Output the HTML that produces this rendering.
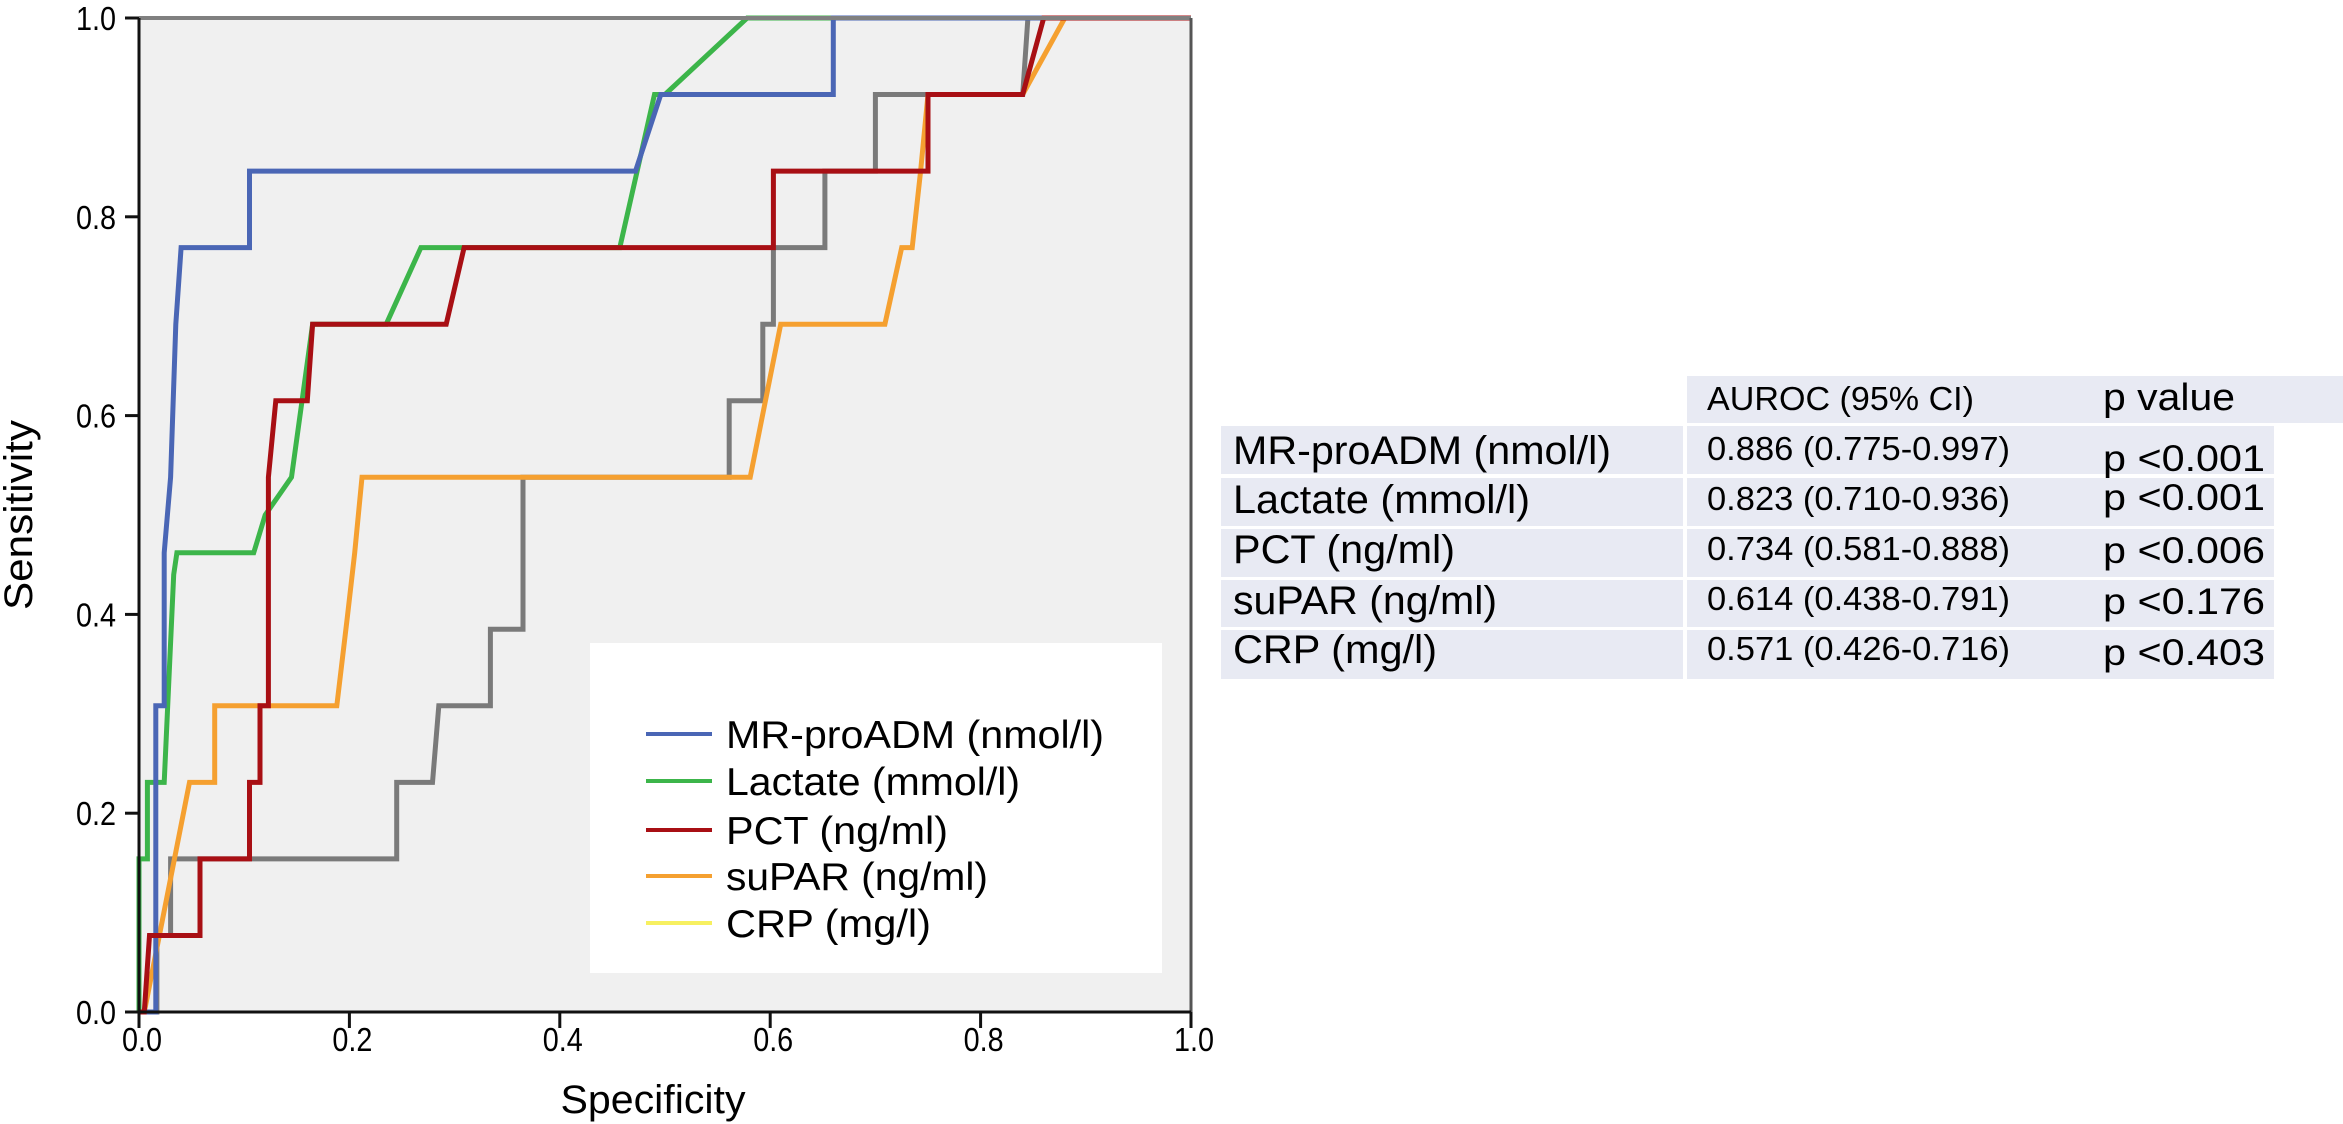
<!DOCTYPE html>
<html><head><meta charset="utf-8"><style>
html,body{margin:0;padding:0;background:#fff;}
svg{display:block;font-family:"Liberation Sans",Arial,sans-serif;}
</style></head><body>
<svg id="chart" width="2343" height="1124" viewBox="0 0 2343 1124" xmlns="http://www.w3.org/2000/svg">
<rect x="139" y="18" width="1052" height="994" fill="#f0f0f0"/>
<g id="curves"></g>
<line x1="139" y1="18" x2="1191" y2="18" stroke="#808080" stroke-width="4"/>
<line x1="1191" y1="18" x2="1191" y2="1012" stroke="#555" stroke-width="3"/>
<line x1="139" y1="18" x2="139" y2="1012" stroke="#111" stroke-width="3"/>
<line x1="139" y1="1012" x2="1191" y2="1012" stroke="#111" stroke-width="3"/>
<g id="ticks"></g>
<text x="653" y="1113" font-size="40" text-anchor="middle" textLength="185" lengthAdjust="spacingAndGlyphs">Specificity</text>
<text transform="translate(32,515) rotate(-90)" font-size="40" text-anchor="middle" textLength="190" lengthAdjust="spacingAndGlyphs">Sensitivity</text>
<g>
<rect x="590" y="643" width="572" height="330" fill="#fff"/>
<g id="legend-items"></g>
</g>
<g>
<rect x="1687" y="376" width="656" height="47" fill="#e8eaf3"/>
<text x="1707" y="410" font-size="33" textLength="267" lengthAdjust="spacingAndGlyphs">AUROC (95% CI)</text>
<text x="2103" y="410" font-size="38" textLength="132" lengthAdjust="spacingAndGlyphs">p value</text>
<g id="table-rows"></g>
</g>
</svg>
<script>
const seriesNames = ["MR-proADM (nmol/l)", "Lactate (mmol/l)", "PCT (ng/ml)", "suPAR (ng/ml)", "CRP (mg/l)"];
const seriesColors = ["#4a66b5", "#3cb54a", "#a80f14", "#f5a030", "#f7f060"];
const crpCurveColor = "#7a7a7a";
const mrSpec = [0,0.01,0.016,0.016,0.024,0.024,0.03,0.035,0.04,0.105,0.105,0.472,0.496,0.66,0.66,1];
const mrSens = [0,0,0,0.308,0.308,0.462,0.538,0.692,0.769,0.769,0.846,0.846,0.923,0.923,1,1];
const lacSpec = [0,0,0.008,0.008,0.024,0.033,0.036,0.109,0.12,0.145,0.165,0.235,0.268,0.307,0.457,0.49,0.5,0.578,1];
const lacSens = [0,0.154,0.154,0.231,0.231,0.44,0.462,0.462,0.5,0.538,0.692,0.692,0.769,0.769,0.769,0.923,0.923,1,1];
const pctSpec = [0,0.005,0.01,0.058,0.058,0.105,0.105,0.115,0.115,0.123,0.123,0.13,0.16,0.165,0.292,0.309,0.603,0.603,0.75,0.75,0.84,0.86,1];
const pctSens = [0,0,0.077,0.077,0.154,0.154,0.231,0.231,0.308,0.308,0.538,0.615,0.615,0.692,0.692,0.769,0.769,0.846,0.846,0.923,0.923,1,1];
const suparSpec = [0,0.005,0.048,0.072,0.072,0.188,0.198,0.205,0.212,0.581,0.61,0.709,0.725,0.735,0.743,0.75,0.84,0.88,1];
const suparSens = [0,0,0.231,0.231,0.308,0.308,0.397,0.462,0.538,0.538,0.692,0.692,0.769,0.769,0.846,0.923,0.923,1,1];
const crpSpec = [0,0.017,0.017,0.03,0.03,0.245,0.245,0.279,0.285,0.334,0.334,0.365,0.365,0.561,0.561,0.593,0.593,0.603,0.603,0.652,0.652,0.70,0.70,0.84,0.845,1];
const crpSens = [0,0,0.077,0.077,0.154,0.154,0.231,0.231,0.308,0.308,0.385,0.385,0.538,0.538,0.615,0.615,0.692,0.692,0.769,0.769,0.846,0.846,0.923,0.923,1,1];
const xTicks = [0, 0.2, 0.4, 0.6, 0.8, 1.0];
const xTickLabels = ["0.0", "0.2", "0.4", "0.6", "0.8", "1.0"];
const yTicks = [0, 0.2, 0.4, 0.6, 0.8, 1.0];
const yTickLabels = ["0.0", "0.2", "0.4", "0.6", "0.8", "1.0"];
const tableLabels = ["MR-proADM (nmol/l)", "Lactate (mmol/l)", "PCT (ng/ml)", "suPAR (ng/ml)", "CRP (mg/l)"];
const tableAuroc = ["0.886 (0.775-0.997)", "0.823 (0.710-0.936)", "0.734 (0.581-0.888)", "0.614 (0.438-0.791)", "0.571 (0.426-0.716)"];
const tableP = ["p <0.001", "p <0.001", "p <0.006", "p <0.176", "p <0.403"];

const NS = "http://www.w3.org/2000/svg";
const X0 = 139, X1 = 1191, Y0 = 1012, Y1 = 18;
function sx(v){ return X0 + v * (X1 - X0); }
function sy(v){ return Y0 - v * (Y0 - Y1); }
function mk(tag, attrs, parent){ const e = document.createElementNS(NS, tag); for (const k in attrs) e.setAttribute(k, attrs[k]); parent.appendChild(e); return e; }

const curves = document.getElementById("curves");
const allSpec = [mrSpec, lacSpec, pctSpec, suparSpec, crpSpec];
const allSens = [mrSens, lacSens, pctSens, suparSens, crpSens];
const curveColors = [seriesColors[0], seriesColors[1], seriesColors[2], seriesColors[3], crpCurveColor];
const curveNames = ["mrproadm-curve", "lactate-curve", "pct-curve", "supar-curve", "crp-curve"];
const drawOrder = [4, 3, 1, 0, 2];
drawOrder.forEach(i => {
  const sp = allSpec[i], se = allSens[i];
  let d = "";
  for (let k = 0; k < sp.length; k++) d += (k ? "L" : "M") + sx(sp[k]).toFixed(1) + " " + sy(se[k]).toFixed(1);
  const p = mk("path", {d: d, fill: "none", stroke: curveColors[i], "stroke-width": 5, "stroke-linejoin": "miter"}, curves);
  
  
});

const ticks = document.getElementById("ticks");
xTicks.forEach((v, i) => {
  const l = mk("line", {x1: sx(v), y1: Y0, x2: sx(v), y2: Y0 + 16, stroke: "#111", "stroke-width": 3}, ticks);
  
  
  const t = mk("text", {x: sx(v) + 3, y: 1051, "font-size": 33, "text-anchor": "middle", textLength: 40, lengthAdjust: "spacingAndGlyphs"}, ticks);
  t.textContent = xTickLabels[i];
  
  
});
yTicks.forEach((v, i) => {
  const l = mk("line", {x1: X0 - 14, y1: sy(v), x2: X0, y2: sy(v), stroke: "#111", "stroke-width": 3}, ticks);
  
  
  const t = mk("text", {x: 116, y: sy(v) + 12, "font-size": 33, "text-anchor": "end", textLength: 40, lengthAdjust: "spacingAndGlyphs"}, ticks);
  t.textContent = yTickLabels[i];
  
  
});

const legendItems = document.getElementById("legend-items");
const legendY = [734, 781, 830, 876, 923];
const legendW = [378, 294, 222, 262, 205];
seriesNames.forEach((n, i) => {
  const l = mk("line", {x1: 646, y1: legendY[i], x2: 712, y2: legendY[i], stroke: seriesColors[i], "stroke-width": 4}, legendItems);
  
  
  const t = mk("text", {x: 726, y: legendY[i] + 14, "font-size": 39, textLength: legendW[i], lengthAdjust: "spacingAndGlyphs"}, legendItems);
  t.textContent = n;
  
  
});

const rowsG = document.getElementById("table-rows");
const rowTop = [426, 478, 529, 580, 630];
const rowBot = [474, 526, 577, 627, 679];
const labBase = [464, 513, 563, 614, 663];
const aucBase = [460, 510, 560, 610, 660];
const pBase = [471, 510, 563, 614, 665];
const labW = [378, 297, 222, 264, 204];
tableLabels.forEach((lab, i) => {
  const r1 = mk("rect", {x: 1221, y: rowTop[i], width: 462, height: rowBot[i] - rowTop[i], fill: "#e8eaf3"}, rowsG);
  
  
  const r2 = mk("rect", {x: 1687, y: rowTop[i], width: 587, height: rowBot[i] - rowTop[i], fill: "#e8eaf3"}, rowsG);
  
  
  const t1 = mk("text", {x: 1233, y: labBase[i], "font-size": 40, textLength: labW[i], lengthAdjust: "spacingAndGlyphs"}, rowsG);
  t1.textContent = lab;
  
  
  const t2 = mk("text", {x: 1707, y: aucBase[i], "font-size": 33, textLength: 303, lengthAdjust: "spacingAndGlyphs"}, rowsG);
  t2.textContent = tableAuroc[i];
  
  
  const t3 = mk("text", {x: 2103, y: pBase[i], "font-size": 37, textLength: 162, lengthAdjust: "spacingAndGlyphs"}, rowsG);
  t3.textContent = tableP[i];
  
  
});
</script>
</body></html>
